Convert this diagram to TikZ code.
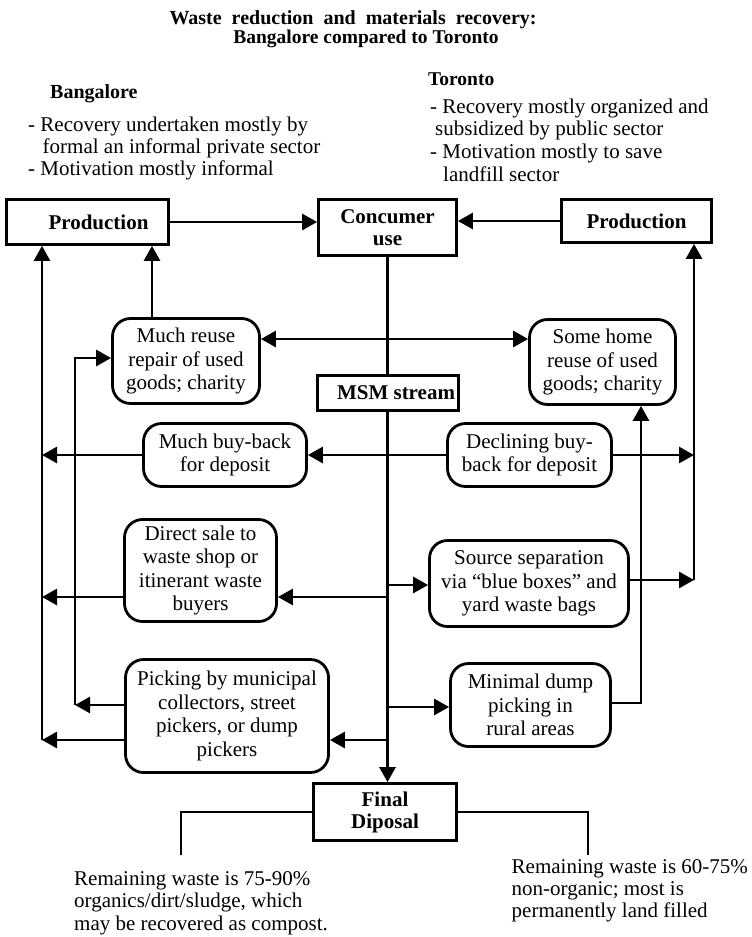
\documentclass[tikz,border=0pt]{standalone}
\usepackage{fontspec}
\setmainfont{Liberation Serif}
\usetikzlibrary{arrows.meta}
\pgfdeclarelayer{background}
\pgfsetlayers{background,main}
\begin{document}
\begin{tikzpicture}[x=1pt,y=-1pt,
  body/.style={font=\fontsize{21}{23.5}\selectfont},
  box/.style={draw,line width=2.8pt,fill=white,inner sep=0pt,align=center,body},
  sbox/.style={box,font=\fontsize{21}{22}\selectfont\bfseries},
  rbox/.style={box,rounded corners=18pt},
  txt/.style={anchor=base west,inner sep=0pt,body},
  head/.style={txt,font=\fontsize{20}{20}\selectfont\bfseries},
  ttl/.style={anchor=base,inner sep=0pt,font=\fontsize{20}{20}\selectfont\bfseries},
  link/.style={line width=2.8pt},
  tip/.tip={Triangle[length=15pt,width=16pt]},
  arr/.style={link,-tip},
  darr/.style={link,tip-tip},
]
\useasboundingbox (0,0) rectangle (752,937);

% title
\node[ttl] (t1) at (353,24)
  {\makebox[367pt][s]{Waste reduction and materials recovery:}};
\node[ttl,font=\fontsize{19.5}{19.5}\selectfont\bfseries] (t2) at (366,43.3)
  {Bangalore compared to Toronto};

% city notes
\node[head] (bh) at (50,98) {Bangalore};
\node[txt] (b1) at (28,131.5) {- Recovery undertaken mostly by};
\node[txt] (b2) at (42.5,153.5) {formal an informal private sector};
\node[txt] (b3) at (28,175.5) {- Motivation mostly informal};

\node[head,font=\fontsize{19.5}{19.5}\selectfont\bfseries] (th) at (428,85) {Toronto};
\node[txt] (r1) at (430,113.3) {- Recovery mostly organized and};
\node[txt] (r2) at (435,135.5) {subsidized by public sector};
\node[txt] (r3) at (430,158.3) {- Motivation mostly to save};
\node[txt] (r4) at (443,181) {landfill sector};

% square boxes
\node[sbox,minimum width=162pt,minimum height=45pt] (prodL) at (87.5,222) {\hspace*{22pt}Production};
\node[sbox,minimum width=138pt,minimum height=56pt] (cons) at (387.5,227.5) {Concumer\\use};
\node[sbox,minimum width=150pt,minimum height=43pt] (prodR) at (636.5,221) {Production};
\node[sbox,minimum width=141pt,minimum height=35pt] (msm) at (388,393) {\hspace*{16pt}MSM stream};
\node[sbox,minimum width=143pt,minimum height=57pt] (fin) at (385,812) {Final\\Diposal};

% rounded boxes
\node[rbox,minimum width=147pt,minimum height=85pt] (reuse) at (186,361) {Much reuse\\repair of used\\goods; charity};
\node[rbox,minimum width=146pt,minimum height=85pt] (home) at (602.5,362) {Some home\\reuse of used\\goods; charity};
\node[rbox,minimum width=163pt,minimum height=63pt] (buyL) at (225,455) {Much buy-back\\for deposit};
\node[rbox,minimum width=164pt,minimum height=63pt] (buyR) at (529.5,455) {Declining buy-\\back for deposit};
\node[rbox,minimum width=152pt,minimum height=102pt] (direct) at (200.5,570.5) {Direct sale to\\waste shop or\\itinerant waste\\buyers};
\node[rbox,minimum width=199pt,minimum height=86pt] (source) at (529,583.5) {Source separation\\via “blue boxes” and\\yard waste bags};
\node[rbox,minimum width=203pt,minimum height=113pt] (pick) at (227,716) {Picking by municipal\\collectors, street\\pickers, or dump\\pickers};
\node[rbox,minimum width=160pt,minimum height=83pt] (minimal) at (530.5,705) {Minimal dump\\picking in\\rural areas};

% remaining waste notes
\node[txt] (fl1) at (74,885) {Remaining waste is 75-90\%};
\node[txt] (fl2) at (74,907.5) {organics/dirt/sludge, which};
\node[txt] (fl3) at (74,930) {may be recovered as compost.};
\node[txt] (fr1) at (511.5,873.3) {Remaining waste is 60-75\%};
\node[txt] (fr2) at (511.5,895.3) {non-organic; most is};
\node[txt] (fr3) at (511.5,917.3) {permanently land filled};

% bus lines
\coordinate (lb) at (42,740);
\coordinate (ib) at (75,705);
\coordinate (pb) at (152,0);
\coordinate (rb) at (694,580);
\coordinate (hb) at (641,0);
\coordinate (fl) at (181,855);
\coordinate (fr) at (588,855);

% paper and main waste stream, beneath the boxes
\begin{pgfonlayer}{background}
\fill[white] (0,0) rectangle (752,937);
\draw[arr] (cons.south) -- (cons.south |- fin.north);
\end{pgfonlayer}

\draw[arr] (prodL.east) -- (cons.west |- prodL.east);
\draw[arr] (prodR.west) -- (cons.east |- prodR.west);

\draw[darr] (reuse.east |- 0,339) -- (home.west |- 0,339);
\draw[arr] (pb |- reuse.north) -- (pb |- prodL.south);

% Bangalore side
\draw[arr] (lb) -- (lb |- prodL.south);
\draw[arr] (buyL.west) -- (buyL.west -| lb);
\draw[arr] (direct.west |- 0,597) -- (lb |- 0,597);
\draw[arr] (pick.west |- lb) -- (lb);
\draw[arr] (pick.west |- ib) -- (ib);
\draw[arr] (ib) |- (reuse.west |- 0,358);

% flows out of the stream
\draw[arr] (buyR.west) -- (buyL.east);
\draw[arr] (cons.south |- 0,597) -- (direct.east |- 0,597);
\draw[arr] (cons.south |- 0,740) -- (pick.east |- 0,740);
\draw[arr] (cons.south |- 0,585) -- (source.west |- 0,585);
\draw[arr] (cons.south |- 0,707) -- (minimal.west |- 0,707);

% Toronto side
\draw[arr] (buyR.east) -- (buyR.east -| rb);
\draw[arr] (source.east |- rb) -- (rb);
\draw[arr] (rb) -- (rb |- prodR.south);
\draw[arr] (minimal.east |- 0,703) -| (hb |- home.south);

% final disposal
\draw[link] (fin.west) -| (fl);
\draw[link] (fin.east) -| (fr);
\end{tikzpicture}
\end{document}
